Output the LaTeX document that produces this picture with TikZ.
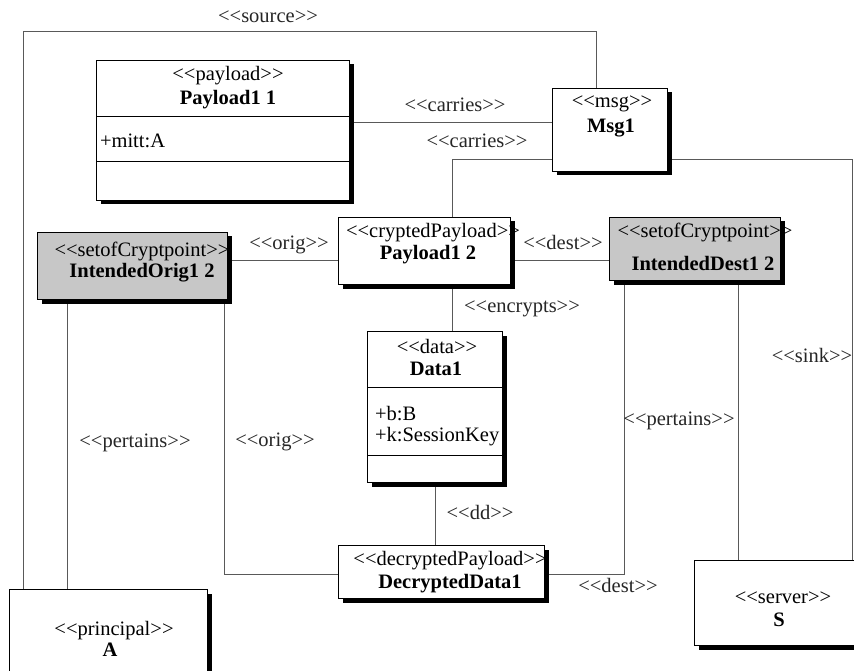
\documentclass[tikz,border=0pt]{standalone}
\usepackage{fontspec}
\setmainfont{Liberation Serif}[Ligatures=TeXOff]
\usetikzlibrary{shadows,backgrounds}
\begin{document}
\begin{tikzpicture}[x=1pt,y=-1pt,
 umlbox/.style={draw=black, line width=0.9pt, fill=white, inner sep=0pt, outer sep=0pt, anchor=north west,
   drop shadow={shadow xshift=4.5pt, shadow yshift=-4.5pt, fill=black, opacity=1}},
 graybox/.style={umlbox, fill=black!22},
 conn/.style={draw=black!65, line width=0.8pt},
 divider/.style={draw=black, line width=0.8pt},
 txt/.style={inner sep=0pt, outer sep=0pt, anchor=base, font=\fontsize{20.5}{24}\selectfont},
 btxt/.style={txt, font=\fontsize{20.5}{24}\selectfont\bfseries},
 lbl/.style={txt, text=black!85}]
\useasboundingbox (0,0) rectangle (854,671);

% boxes
\node[umlbox, minimum width=253pt, minimum height=140pt] (pl1) at (96,60) {};
\node[umlbox, minimum width=115pt, minimum height=83pt] (msg) at (552,88) {};
\node[graybox, minimum width=190pt, minimum height=67pt] (io) at (37,232) {};
\node[umlbox, minimum width=172pt, minimum height=67pt] (pl2) at (338,217) {};
\node[graybox, minimum width=171pt, minimum height=63pt] (id) at (609,217) {};
\node[umlbox, minimum width=135pt, minimum height=151pt] (data) at (367,331) {};
\node[umlbox, minimum width=206pt, minimum height=53pt] (dec) at (338,545) {};
\node[umlbox, minimum width=198pt, minimum height=110pt] (A) at (9,589) {};
\node[umlbox, minimum width=170pt, minimum height=85pt] (S) at (694,560) {};

% compartments
\draw[divider] (pl1.west |- 0,116) -- (pl1.east |- 0,116);
\draw[divider] (pl1.west |- 0,161) -- (pl1.east |- 0,161);
\draw[divider] (data.west |- 0,387) -- (data.east |- 0,387);
\draw[divider] (data.west |- 0,455) -- (data.east |- 0,455);

% box texts
\node[txt] (pl1s) at (228,81) {<<payload>>};
\node[btxt] (pl1n) at (228,105) {Payload1 1};
\node[txt, anchor=base west] (pl1a) at (100,148) {+mitt:A};
\node[txt] (msgs) at (612,108) {<<msg>>};
\node[btxt] (msgn) at (611,133) {Msg1};
\node[txt] (ios) at (142,257) {<<setofCryptpoint>>};
\node[btxt] (ion) at (142,277) {IntendedOrig1 2};
\node[txt] (pl2s) at (433,237) {<<cryptedPayload>>};
\node[btxt] (pl2n) at (428,259) {Payload1 2};
\node[txt] (ids) at (705,237) {<<setofCryptpoint>>};
\node[btxt] (idn) at (703,270) {IntendedDest1 2};
\node[txt] (datas) at (437,353) {<<data>>};
\node[btxt] (datan) at (436,375) {Data1};
\node[txt, anchor=base west] (dataa) at (375,420) {+b:B};
\node[txt, anchor=base west] (datab) at (375,441) {+k:SessionKey};
\node[txt] (decs) at (450,565) {<<decryptedPayload>>};
\node[btxt] (decn) at (450,588) {DecryptedData1};
\node[txt] (As) at (114,635) {<<principal>>};
\node[btxt] (An) at (110,656) {A};
\node[txt] (Ss) at (783,603) {<<server>>};
\node[btxt] (Sn) at (779,626) {S};

% connector labels
\node[lbl] (lsource) at (268,23) {<<source>>};
\node[lbl] (lcar1) at (455,112) {<<carries>>};
\node[lbl] (lcar2) at (477,148) {<<carries>>};
\node[lbl] (lorig1) at (289,250) {<<orig>>};
\node[lbl] (ldest1) at (563,250) {<<dest>>};
\node[lbl] (lenc) at (522,312) {<<encrypts>>};
\node[lbl] (lpertL) at (135,447) {<<pertains>>};
\node[lbl] (lorig2) at (275,446) {<<orig>>};
\node[lbl] (lpertR) at (679,425) {<<pertains>>};
\node[lbl] (lsink) at (812,362) {<<sink>>};
\node[lbl] (ldd) at (480,519) {<<dd>>};
\node[lbl] (ldest2) at (618,592) {<<dest>>};

\begin{scope}[on background layer]
\fill[white] (0,0) rectangle (854,671);
\draw[conn] (A.north -| 23,0) -- (23,31) -- (596,31) -- (msg.north -| 596,0);
\draw[conn] (pl1.east |- 0,122) -- (msg.west |- 0,122);
\draw[conn] (msg.west |- 0,159) -| (pl2.north -| 452,0);
\draw[conn] (pl2.south -| 452,0) -- (data.north -| 452,0);
\draw[conn] (data.south -| 435,0) -- (dec.north -| 435,0);
\draw[conn] (io.east |- 0,260) -- (pl2.west |- 0,260);
\draw[conn] (pl2.east |- 0,260) -- (id.west |- 0,260);
\draw[conn] (io.south -| 224,0) |- (dec.west |- 0,574);
\draw[conn] (io.south -| 67,0) -- (A.north -| 67,0);
\draw[conn] (dec.east |- 0,574) -| (id.south -| 624,0);
\draw[conn] (id.south -| 738,0) -- (S.north -| 738,0);
\draw[conn] (msg.east |- 0,159) -| (S.north -| 852,0);
\end{scope}
\end{tikzpicture}
\end{document}
